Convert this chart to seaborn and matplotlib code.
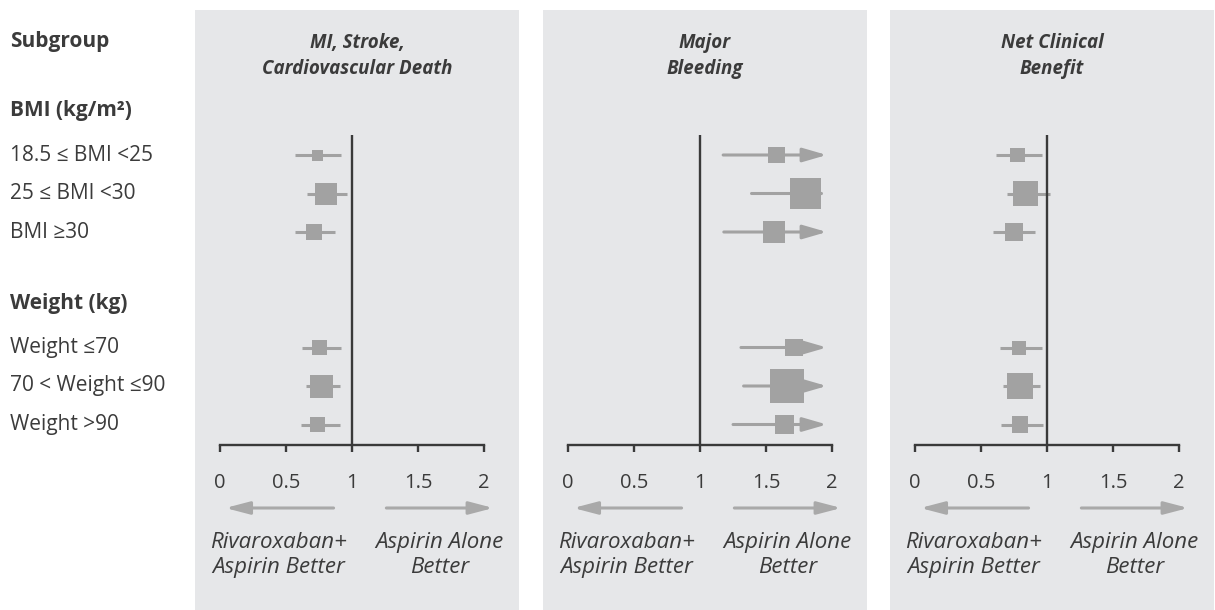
import numpy as np
import pandas as pd
import matplotlib
matplotlib.use("Agg")
import matplotlib.pyplot as plt
import matplotlib.transforms as mtransforms
import seaborn as sns

# subgroup structure
group_names = ["BMI (kg/m\u00b2)", "Weight (kg)"]
group_rows = [
    ["18.5 \u2264 BMI <25", "25 \u2264 BMI <30", "BMI \u226530"],
    ["Weight \u226470", "70 < Weight \u226490", "Weight >90"],
]

panel_titles = ["MI, Stroke,\nCardiovascular Death", "Major\nBleeding", "Net Clinical\nBenefit"]

# hazard ratios and 95% CI (upper CI of bleeding is off scale)
mace_hr = [0.74, 0.80, 0.71, 0.755, 0.765, 0.74]
mace_lo = [0.57, 0.66, 0.57, 0.62, 0.65, 0.61]
mace_hi = [0.92, 0.96, 0.87, 0.92, 0.91, 0.91]
mace_w = [11, 22, 16, 15, 23, 15]

bleed_hr = [1.58, 1.80, 1.56, 1.71, 1.66, 1.64]
bleed_lo = [1.175, 1.39, 1.18, 1.31, 1.33, 1.25]
bleed_hi = [2.15, 2.35, 2.10, 2.25, 2.10, 2.20]
bleed_w = [16.5, 30.5, 21.5, 17.5, 34.5, 19]

ncb_hr = [0.775, 0.84, 0.75, 0.79, 0.795, 0.795]
ncb_lo = [0.61, 0.695, 0.59, 0.645, 0.665, 0.65]
ncb_hi = [0.96, 1.02, 0.905, 0.96, 0.945, 0.97]
ncb_w = [14.3, 25, 17.7, 14, 26.7, 16.5]

ticks = [0, 0.5, 1, 1.5, 2]
tick_labels = ["0", "0.5", "1", "1.5", "2"]
left_label = "Rivaroxaban+\nAspirin Better"
right_label = "Aspirin Alone\nBetter"

# row positions: heading, rows, blank line between groups
heading_pos = []
row_pos = []
row_labels = []
p = -1
for name, rows in zip(group_names, group_rows):
    heading_pos.append(p)
    for i, r in enumerate(rows):
        row_pos.append(p + 1 + i)
        row_labels.append(r)
    p += len(rows) + 2

panels = [
    (mace_hr, mace_lo, mace_hi, mace_w),
    (bleed_hr, bleed_lo, bleed_hi, bleed_w),
    (ncb_hr, ncb_lo, ncb_hi, ncb_w),
]

sns.set_theme(style="white")
plt.rcParams["font.family"] = ["Open Sans", "DejaVu Sans"]

text_col = "#3b3b3b"
mark_col = "#a2a2a2"
arrow_col = "#a9a9a9"
bg_col = "#e6e7e9"
axis_col = "#3a3a3a"

W, H = 1215, 610
fig = plt.figure(figsize=(W / 100, H / 100), dpi=100)

panel_left = [195, 543, 890]
panel_w = 324
ax_top, ax_bot = 10, 610
xlim = (-0.19, 2.265)

# y pixel = 155 + 38.5 * pos
def pos_of(py):
    return (py - 155) / 38.5

ylim = (pos_of(ax_bot), pos_of(ax_top))
axis_y = pos_of(445)

all_w = [w for pn in panels for w in pn[3]]
areas_all = [(w * 0.72) ** 2 for w in all_w]
lo_a, hi_a = min(areas_all), max(areas_all)

axes = []
for k, (hr, lo, hi, wts) in enumerate(panels):
    ax = fig.add_axes([panel_left[k] / W, 1 - ax_bot / H, panel_w / W, (ax_bot - ax_top) / H])
    ax.set_facecolor(bg_col)
    ax.set_xlim(*xlim)
    ax.set_ylim(*ylim)
    axes.append(ax)

    df = pd.DataFrame({
        "hr": hr, "lo": lo, "hi": hi, "pos": row_pos,
        "area": [(w * 0.72) ** 2 for w in wts],
    })

    # confidence intervals, arrow when above the scale
    for _, r in df.iterrows():
        if r["hi"] > 2:
            ax.annotate("", xy=(1.96, r["pos"]), xytext=(r["lo"], r["pos"]),
                        arrowprops=dict(arrowstyle="-|>,head_length=1.45,head_width=0.42",
                                        mutation_scale=10, color=mark_col, lw=2.2,
                                        shrinkA=0, shrinkB=0), zorder=2)
        else:
            ax.hlines(r["pos"], r["lo"], r["hi"], color=mark_col, lw=2.2, zorder=2)

    sns.scatterplot(data=df, x="hr", y="pos", size="area", sizes=(lo_a, hi_a),
                    size_norm=(lo_a, hi_a), marker="s", color=mark_col,
                    linewidth=0, legend=False, ax=ax, zorder=3)

    ax.vlines(1, pos_of(135), axis_y, color=axis_col, lw=1.7, zorder=4)

    for s in ["left", "right", "top"]:
        ax.spines[s].set_visible(False)
    ax.spines["bottom"].set_position(("data", axis_y))
    ax.spines["bottom"].set_bounds(0, 2)
    ax.spines["bottom"].set_color(axis_col)
    ax.spines["bottom"].set_linewidth(1.7)
    ax.set_xticks(ticks)
    ax.set_xticklabels(tick_labels, fontsize=14.5, color=text_col)
    ax.tick_params(axis="x", direction="out", length=5, width=1.7, color=axis_col,
                   pad=15, bottom=True)
    ax.set_yticks([])
    ax.set_xlabel("")
    ax.set_ylabel("")

    trans = mtransforms.blended_transform_factory(ax.transAxes, ax.transData)
    ax.text(0.5, pos_of(56), panel_titles[k], transform=trans, ha="center", va="center",
            fontsize=13.5, fontstyle="italic", fontweight="bold", color=text_col,
            linespacing=1.35)

    # direction arrows and captions
    ay = pos_of(508)
    ax.annotate("", xy=(0.04, ay), xytext=(0.86, ay),
                arrowprops=dict(arrowstyle="-|>,head_length=1.45,head_width=0.38",
                                mutation_scale=10, color=arrow_col, lw=2.2,
                                shrinkA=0, shrinkB=0))
    ax.annotate("", xy=(2.07, ay), xytext=(1.26, ay),
                arrowprops=dict(arrowstyle="-|>,head_length=1.45,head_width=0.38",
                                mutation_scale=10, color=arrow_col, lw=2.2,
                                shrinkA=0, shrinkB=0))
    ty = pos_of(555)
    ax.text(0.44, ty, left_label, ha="center", va="center", fontsize=16,
            fontstyle="italic", color=text_col, linespacing=1.22)
    ax.text(1.66, ty, right_label, ha="center", va="center", fontsize=16,
            fontstyle="italic", color=text_col, linespacing=1.22)

# subgroup labels on the left
ax0 = axes[0]
ltrans = mtransforms.blended_transform_factory(fig.transFigure, ax0.transData)
lx = 10 / W
ax0.text(lx, pos_of(42), "Subgroup", transform=ltrans, ha="left", va="center",
         fontsize=15, fontweight="bold", color=text_col)
for name, hp in zip(group_names, heading_pos):
    ax0.text(lx, hp - 0.15, name, transform=ltrans, ha="left", va="center",
             fontsize=15, fontweight="bold", color=text_col)
for lab, rp in zip(row_labels, row_pos):
    ax0.text(lx, rp, lab, transform=ltrans, ha="left", va="center",
             fontsize=15, color=text_col)

fig.savefig("out.png", dpi=100, facecolor="white")
